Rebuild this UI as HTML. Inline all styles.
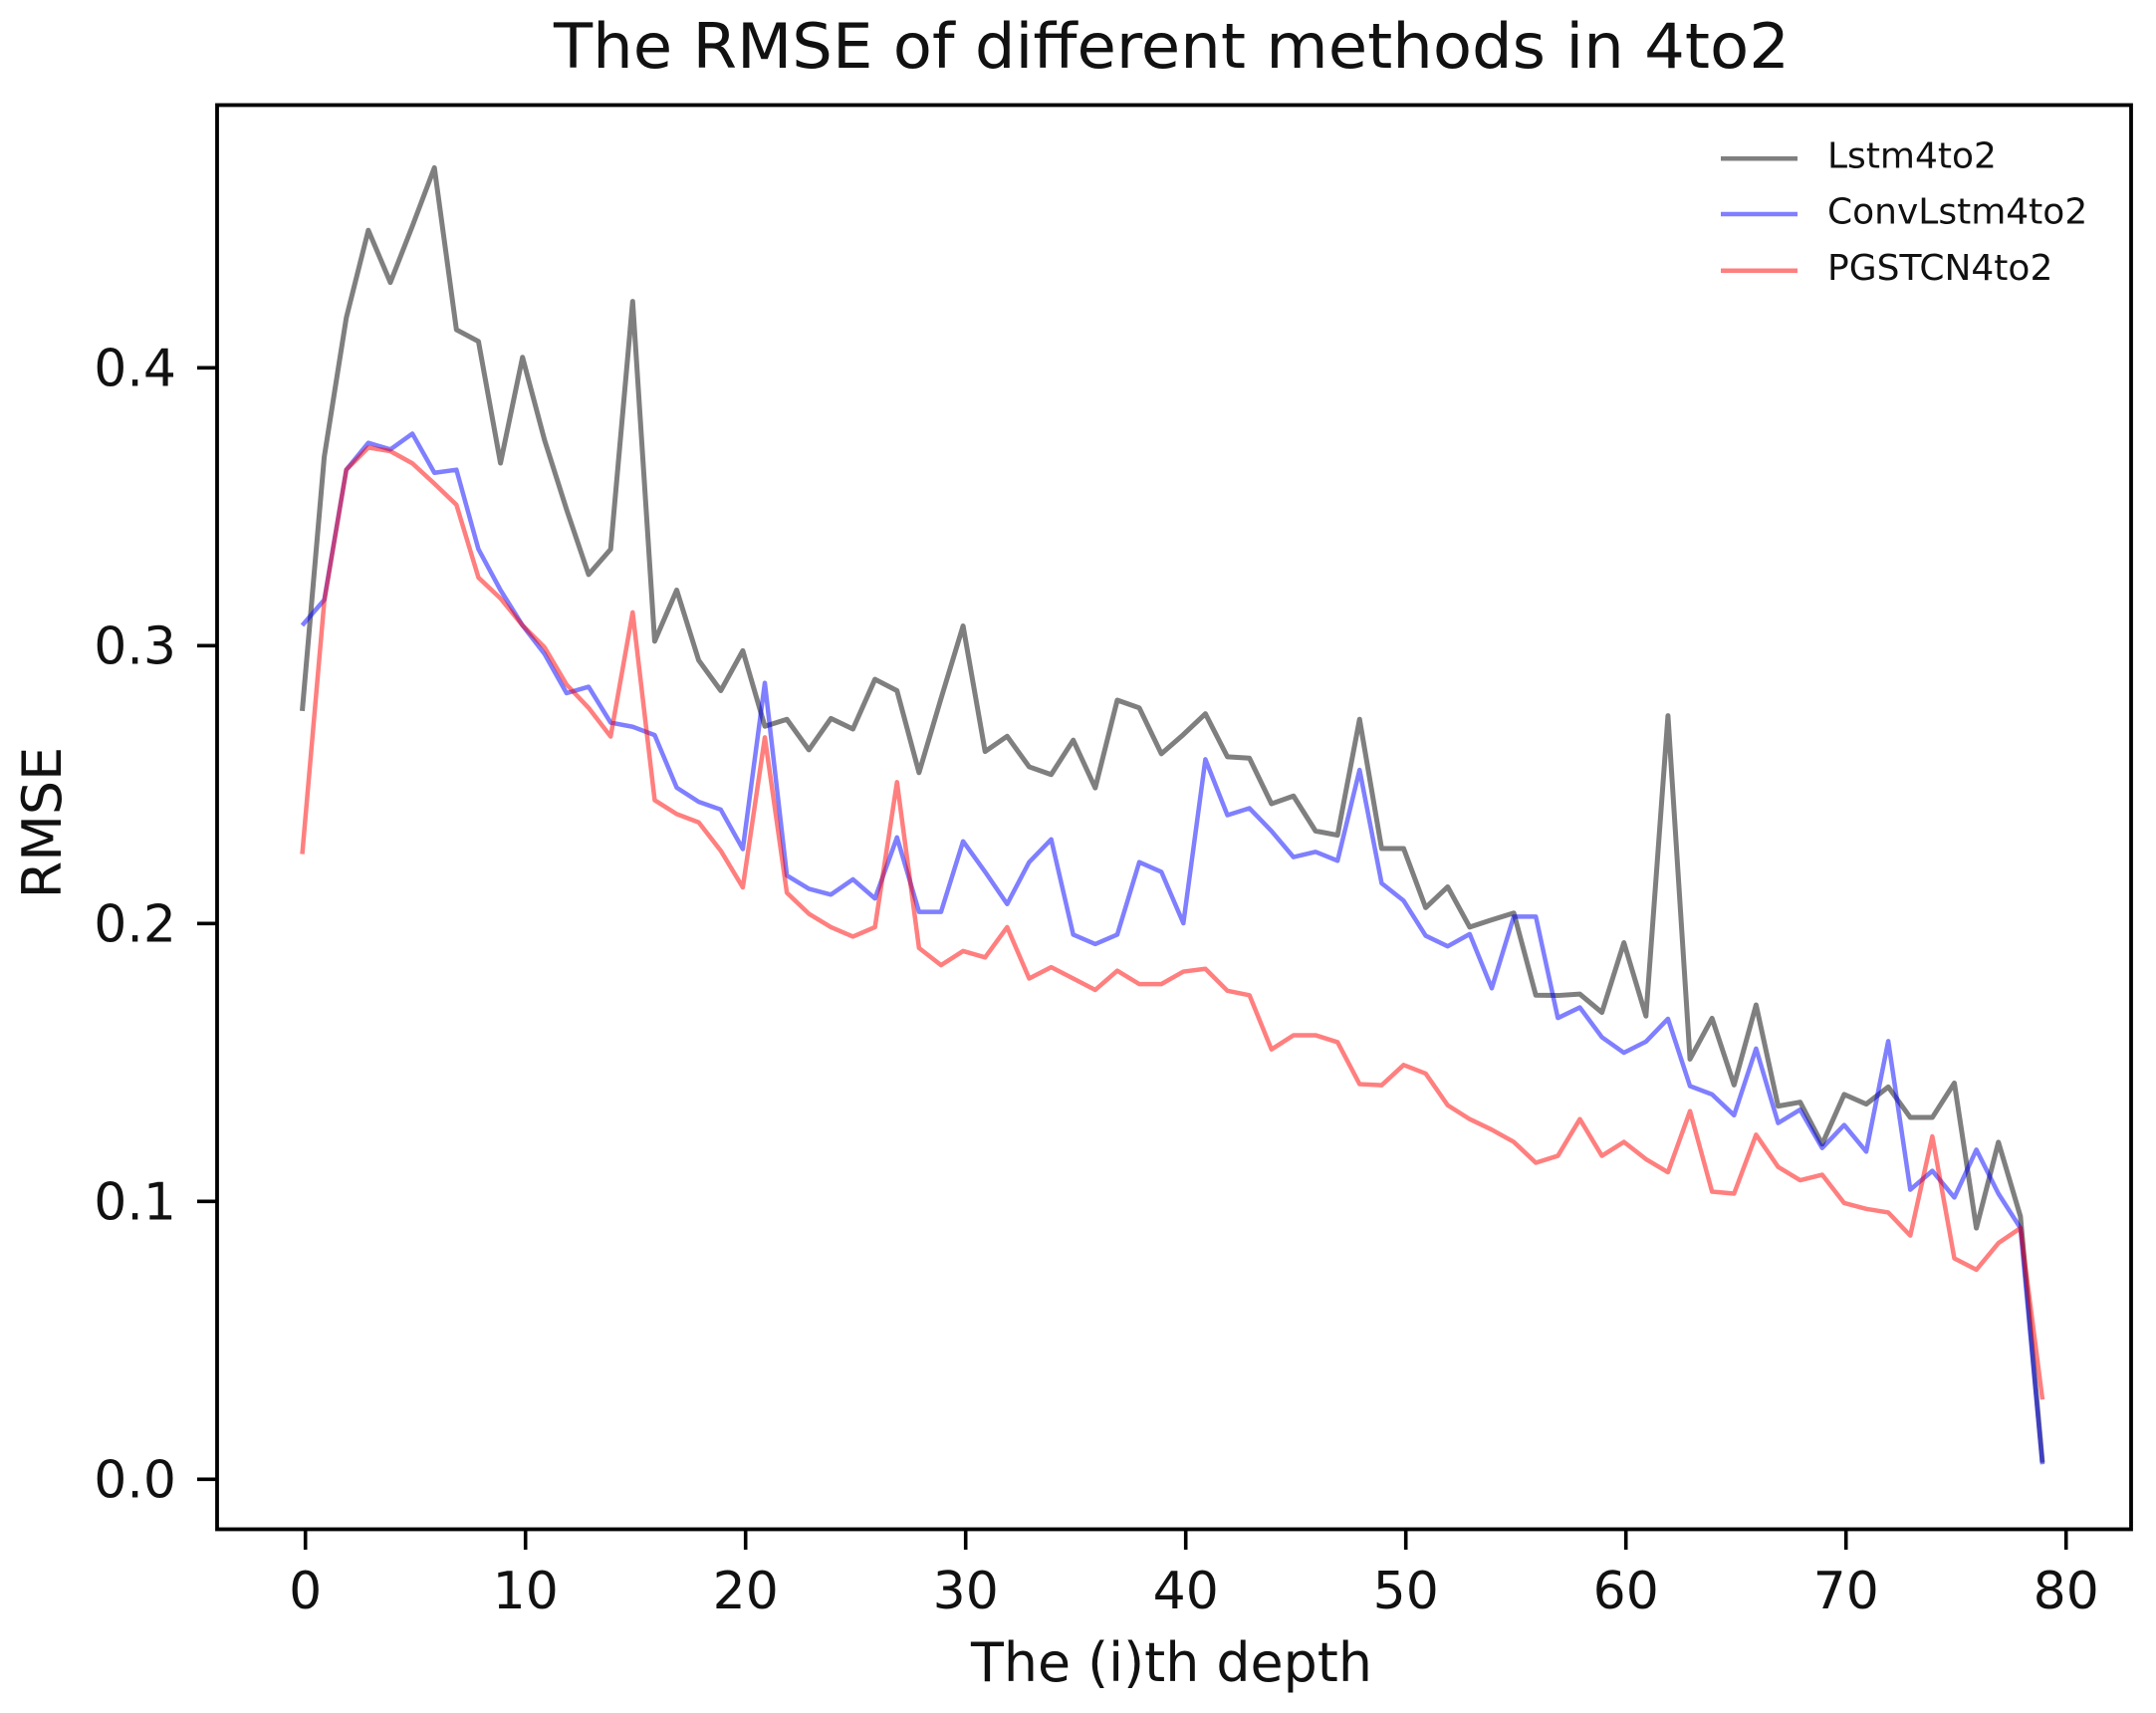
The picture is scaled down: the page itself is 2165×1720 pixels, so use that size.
<!DOCTYPE html>
<html>
<head>
<meta charset="utf-8">
<style>
  html, body { margin:0; padding:0; background:#ffffff; }
  svg { display:block; }
  text { font-family: "DejaVu Sans", "Liberation Sans", sans-serif; fill:#111; }
</style>
</head>
<body>
<svg width="2165" height="1720" viewBox="0 0 2165 1720" xmlns="http://www.w3.org/2000/svg">
  <rect x="0" y="0" width="2165" height="1720" fill="#ffffff"/>

  <!-- Title -->
  <text x="556" y="68" font-size="62" textLength="1241" lengthAdjust="spacingAndGlyphs">The RMSE of different methods in 4to2</text>

  <!-- Data series -->
  <g transform="translate(303.5,1485.3) scale(22.12,-2790)" fill="none" stroke-linejoin="round" stroke-linecap="butt">
    <polyline vector-effect="non-scaling-stroke" stroke="#000000" stroke-opacity="0.5" stroke-width="5"
      points="0,0.2765 1,0.368 2,0.418 3,0.4495 4,0.4307 5,0.451 6,0.472 7,0.4137 8,0.4095 9,0.3657 10,0.4038 11,0.374 12,0.349 13,0.3256 14,0.3347 15,0.4239 16,0.3016 17,0.320 18,0.2947 19,0.2838 20,0.2982 21,0.271 22,0.2735 23,0.2625 24,0.2738 25,0.270 26,0.2879 27,0.2838 28,0.2543 29,0.281 30,0.3071 31,0.2619 32,0.2674 33,0.2564 34,0.2536 35,0.266 36,0.2488 37,0.2804 38,0.2776 39,0.2611 40,0.268 41,0.2755 42,0.26 43,0.2595 44,0.2431 45,0.2459 46,0.2333 47,0.2318 48,0.2735 49,0.227 50,0.227 51,0.2057 52,0.2132 53,0.1987 54,0.2013 55,0.2038 56,0.1742 57,0.1741 58,0.1746 59,0.168 60,0.1931 61,0.1667 62,0.2748 63,0.1512 64,0.1659 65,0.1419 66,0.1707 67,0.1343 68,0.1357 69,0.1206 70,0.1385 71,0.135 72,0.1412 73,0.1302 74,0.1302 75,0.1426 76,0.0904 77,0.1213 78,0.0946 79,0.006"/>
    <polyline vector-effect="non-scaling-stroke" stroke="#0000ff" stroke-opacity="0.5" stroke-width="4.5"
      points="0,0.3073 1,0.3165 2,0.3633 3,0.373 4,0.3706 5,0.3763 6,0.3622 7,0.3633 8,0.3347 9,0.320 10,0.3073 11,0.297 12,0.2829 13,0.2852 14,0.2723 15,0.2708 16,0.2678 17,0.2489 18,0.2438 19,0.241 20,0.2268 21,0.2866 22,0.2173 23,0.2125 24,0.2104 25,0.2159 26,0.209 27,0.231 28,0.2042 29,0.2042 30,0.2296 31,0.2186 32,0.207 33,0.2221 34,0.2303 35,0.196 36,0.1926 37,0.196 38,0.2221 39,0.2186 40,0.2001 41,0.2591 42,0.239 43,0.2415 44,0.2333 45,0.2239 46,0.2258 47,0.2226 48,0.2553 49,0.2145 50,0.2082 51,0.1956 52,0.1918 53,0.1962 54,0.1767 55,0.2025 56,0.2025 57,0.166 58,0.1698 59,0.1591 60,0.1535 61,0.1575 62,0.1657 63,0.1415 64,0.1385 65,0.131 66,0.155 67,0.1282 68,0.133 69,0.1192 70,0.1275 71,0.1179 72,0.1577 73,0.1042 74,0.111 75,0.1014 76,0.1186 77,0.1028 78,0.0904 79,0.0054"/>
    <polyline vector-effect="non-scaling-stroke" stroke="#ff0000" stroke-opacity="0.5" stroke-width="4.5"
      points="0,0.225 1,0.316 2,0.3633 3,0.3713 4,0.370 5,0.3656 6,0.3583 7,0.3507 8,0.3245 9,0.317 10,0.3073 11,0.2994 12,0.286 13,0.2776 14,0.2673 15,0.312 16,0.2444 17,0.2394 18,0.2364 19,0.2262 20,0.213 21,0.267 22,0.2111 23,0.2035 24,0.1987 25,0.1953 26,0.1987 27,0.2509 28,0.1912 29,0.185 30,0.1901 31,0.1878 32,0.1987 33,0.1802 34,0.1843 35,0.1802 36,0.1761 37,0.183 38,0.1782 39,0.1782 40,0.1827 41,0.1837 42,0.1758 43,0.1742 44,0.1547 45,0.1598 46,0.1598 47,0.1573 48,0.1422 49,0.1418 50,0.1491 51,0.146 52,0.1346 53,0.1296 54,0.1258 55,0.1214 56,0.1139 57,0.1164 58,0.1296 59,0.1164 60,0.1214 61,0.1152 62,0.1105 63,0.1325 64,0.1035 65,0.1028 66,0.124 67,0.1124 68,0.1076 69,0.1096 70,0.0994 71,0.0973 72,0.096 73,0.0877 74,0.1234 75,0.0795 76,0.0754 77,0.085 78,0.0904 79,0.0287"/>
  </g>

  <!-- Axes frame -->
  <rect x="218" y="105.5" width="1922" height="1430" fill="none" stroke="#000" stroke-width="3.8"/>

  <!-- Y ticks -->
  <g stroke="#000" stroke-width="3.6">
    <line x1="198" y1="1485.3" x2="218" y2="1485.3"/>
    <line x1="198" y1="1206.3" x2="218" y2="1206.3"/>
    <line x1="198" y1="927.3" x2="218" y2="927.3"/>
    <line x1="198" y1="648.3" x2="218" y2="648.3"/>
    <line x1="198" y1="369.3" x2="218" y2="369.3"/>
  </g>
  <g font-size="52" text-anchor="end">
    <text x="177" y="1503.3">0.0</text>
    <text x="177" y="1224.3">0.1</text>
    <text x="177" y="945.3">0.2</text>
    <text x="177" y="666.3">0.3</text>
    <text x="177" y="387.3">0.4</text>
  </g>

  <!-- X ticks -->
  <g stroke="#000" stroke-width="3.6">
    <line x1="306.7" y1="1535" x2="306.7" y2="1556"/>
    <line x1="527.7" y1="1535" x2="527.7" y2="1556"/>
    <line x1="748.7" y1="1535" x2="748.7" y2="1556"/>
    <line x1="969.7" y1="1535" x2="969.7" y2="1556"/>
    <line x1="1190.7" y1="1535" x2="1190.7" y2="1556"/>
    <line x1="1411.7" y1="1535" x2="1411.7" y2="1556"/>
    <line x1="1632.7" y1="1535" x2="1632.7" y2="1556"/>
    <line x1="1853.7" y1="1535" x2="1853.7" y2="1556"/>
    <line x1="2074.7" y1="1535" x2="2074.7" y2="1556"/>
  </g>
  <g font-size="52" text-anchor="middle">
    <text x="306.7" y="1615">0</text>
    <text x="527.7" y="1615">10</text>
    <text x="748.7" y="1615">20</text>
    <text x="969.7" y="1615">30</text>
    <text x="1190.7" y="1615">40</text>
    <text x="1411.7" y="1615">50</text>
    <text x="1632.7" y="1615">60</text>
    <text x="1853.7" y="1615">70</text>
    <text x="2074.7" y="1615">80</text>
  </g>

  <!-- Axis labels -->
  <text x="975" y="1688" font-size="54" textLength="403" lengthAdjust="spacingAndGlyphs">The (i)th depth</text>
  <text x="0" y="0" font-size="54" text-anchor="middle" transform="translate(61,826) rotate(-90)">RMSE</text>

  <!-- Legend -->
  <g fill="none" stroke-width="4.5">
    <line x1="1728" y1="159.3" x2="1805" y2="159.3" stroke="#000" stroke-opacity="0.5"/>
    <line x1="1728" y1="215" x2="1805" y2="215" stroke="#0000ff" stroke-opacity="0.5"/>
    <line x1="1728" y1="271.7" x2="1805" y2="271.7" stroke="#ff0000" stroke-opacity="0.5"/>
  </g>
  <g font-size="36">
    <text x="1835" y="168.3">Lstm4to2</text>
    <text x="1835" y="224.5">ConvLstm4to2</text>
    <text x="1835" y="281">PGSTCN4to2</text>
  </g>
</svg>
</body>
</html>
